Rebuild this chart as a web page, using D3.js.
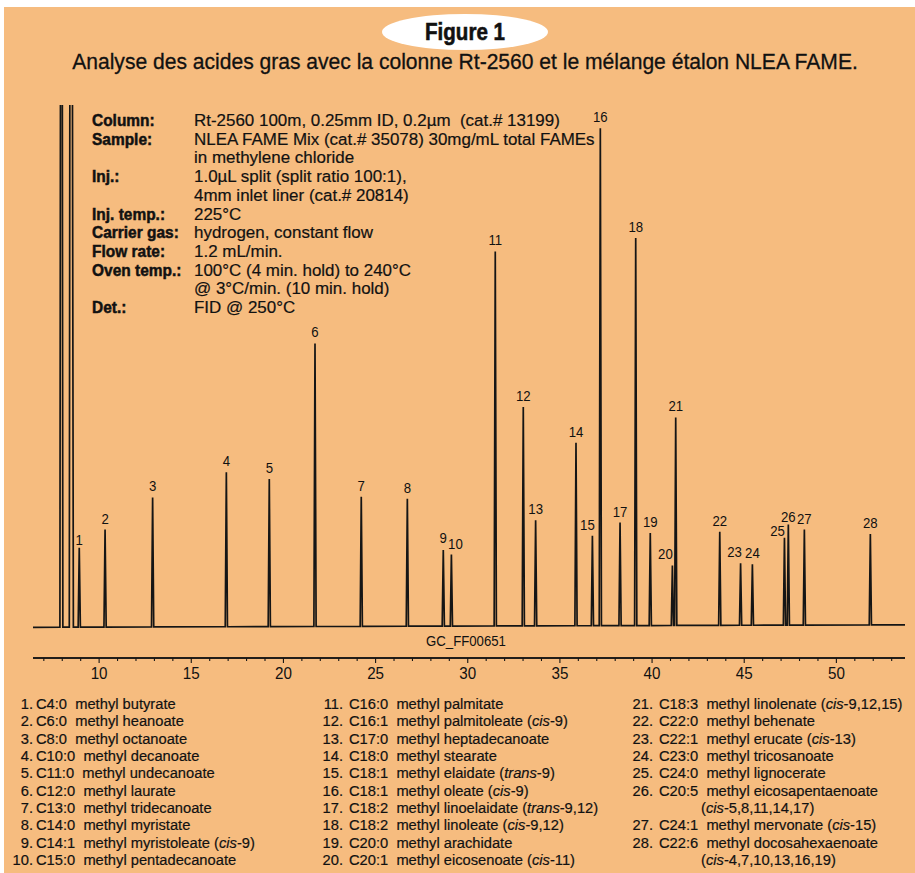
<!DOCTYPE html>
<html>
<head>
<meta charset="utf-8">
<script src="https://cdn.jsdelivr.net/npm/d3@7"></script>
<style>
  html, body { margin: 0; padding: 0; background: #ffffff; }
  svg { display: block; }
</style>
</head>
<body>
<script>
// ---- data ----
const peakNums = [1, 2, 3, 4, 5, 6, 7, 8, 9, 10, 11, 12, 13, 14, 15, 16, 17, 18, 19, 20, 21, 22, 23, 24, 25, 26, 27, 28]
const peakTimes = [8.95, 10.35, 12.93, 16.93, 19.26, 21.74, 24.25, 26.75, 28.70, 29.14,
    31.52, 33.04, 33.71, 35.90, 36.79, 37.22, 38.29, 39.14, 39.93, 41.13,
    41.31, 43.70, 44.83, 45.47, 47.21, 47.42, 48.29, 51.87]
const peakHeights = [15.9, 19.5, 25.9, 30.9, 29.5, 56.6, 25.9, 25.5, 15.2, 14.3,
    74.9, 43.8, 21.1, 36.6, 18.0, 99.5, 20.6, 77.5, 18.5, 12.0,
    41.6, 18.7, 12.4, 12.2, 17.5, 20.1, 19.1, 18.2]

// solvent front, runs off the top
const solventTimes = [7.98, 8.49]
const solventHeights = [300, 300]

// baseline drift (time, signal)
const baselineTimes = [6.44, 53.75]
const baselineLevels = [0, 0.5]

const majorTicks = [10, 15, 20, 25, 30, 35, 40, 45, 50]
const minorTicks = [7, 8, 9, 11, 12, 13, 14, 16, 17, 18, 19, 21, 22, 23, 24, 26, 27, 28, 29,
    31, 32, 33, 34, 36, 37, 38, 39, 41, 42, 43, 44, 46, 47, 48, 49, 51, 52, 53]

const infoLabels = ['Column:', 'Sample:', '', 'Inj.:', '', 'Inj. temp.:', 'Carrier gas:', 'Flow rate:', 'Oven temp.:', '', 'Det.:']
const infoValues = [
    'Rt-2560 100m, 0.25mm ID, 0.2µm  (cat.# 13199)',
    'NLEA FAME Mix (cat.# 35078) 30mg/mL total FAMEs',
    'in methylene chloride',
    '1.0µL split (split ratio 100:1),',
    '4mm inlet liner (cat.# 20814)',
    '225°C',
    'hydrogen, constant flow',
    '1.2 mL/min.',
    '100°C (4 min. hold) to 240°C',
    '@ 3°C/min. (10 min. hold)',
    'FID @ 250°C'
]

const compoundCodes = ['C4:0', 'C6:0', 'C8:0', 'C10:0', 'C11:0', 'C12:0', 'C13:0', 'C14:0', 'C14:1', 'C15:0',
    'C16:0', 'C16:1', 'C17:0', 'C18:0', 'C18:1', 'C18:1', 'C18:2', 'C18:2', 'C20:0', 'C20:1',
    'C18:3', 'C22:0', 'C22:1', 'C23:0', 'C24:0', 'C20:5', 'C24:1', 'C22:6']
// <i>..</i> = italic, | = line break
const compoundNames = ['methyl butyrate', 'methyl heanoate', 'methyl octanoate', 'methyl decanoate',
    'methyl undecanoate', 'methyl laurate', 'methyl tridecanoate', 'methyl myristate',
    'methyl myristoleate (<i>cis</i>-9)', 'methyl pentadecanoate',
    'methyl palmitate', 'methyl palmitoleate (<i>cis</i>-9)', 'methyl heptadecanoate', 'methyl stearate',
    'methyl elaidate (<i>trans</i>-9)', 'methyl oleate (<i>cis</i>-9)', 'methyl linoelaidate (<i>trans</i>-9,12)',
    'methyl linoleate (<i>cis</i>-9,12)', 'methyl arachidate', 'methyl eicosenoate (<i>cis</i>-11)',
    'methyl linolenate (<i>cis</i>-9,12,15)', 'methyl behenate', 'methyl erucate (<i>cis</i>-13)',
    'methyl tricosanoate', 'methyl lignocerate', 'methyl eicosapentaenoate|(<i>cis</i>-5,8,11,14,17)',
    'methyl mervonate (<i>cis</i>-15)', 'methyl docosahexaenoate|(<i>cis</i>-4,7,10,13,16,19)']

// ---- layout ----
const W = 915, H = 873
const font = "'Liberation Sans', Arial, Helvetica, sans-serif"
const bg = '#f6bc7f'
const ink = '#151515'

// label nudges [dx, dy] for crowded peaks
const labelNudge = {1: [0, 3], 9: [0, -1], 10: [4, 0], 15: [-5, 0], 20: [-7, 0], 23: [-6, 0], 25: [-7, 4], 26: [0, 3]}

const svg = d3.select('body').append('svg')
    .attr('width', W)
    .attr('height', H)

// the source uses a condensed face: squeeze liberation horizontally
function squeeze(sel, s) {
    sel.each(function () {
        const t = d3.select(this)
        const xx = +t.attr('x'), yy = +t.attr('y')
        t.attr('x', 0).attr('y', 0)
            .attr('transform', `translate(${xx},${yy}) scale(${s},1)`)
    })
}

function widthOf(sel) {
    return sel.node().getComputedTextLength()
}

// helvetica condensed prints darker than liberation
function heavier(sel, w) {
    sel.attr('stroke', '#111').attr('stroke-width', w).attr('paint-order', 'stroke')
}

svg.append('rect')
    .attr('x', 4).attr('y', 7)
    .attr('width', W - 4).attr('height', H - 7)
    .attr('fill', bg)

// title
svg.append('ellipse')
    .attr('cx', 465).attr('cy', 32)
    .attr('rx', 83).attr('ry', 18)
    .attr('fill', '#ffffff')

const fig = svg.append('text')
    .attr('x', 465).attr('y', 40)
    .attr('text-anchor', 'middle')
    .style('font-family', font)
    .style('font-weight', 'bold')
    .style('font-size', '24px')
    .attr('fill', '#111')
    .text('Figure 1')
squeeze(fig, 80 / widthOf(fig))
heavier(fig, 0.6)

const title = svg.append('text')
    .attr('x', 465).attr('y', 69)
    .attr('text-anchor', 'middle')
    .style('font-family', font)
    .style('font-size', '22px')
    .attr('fill', '#111')
    .text('Analyse des acides gras avec la colonne Rt-2560 et le mélange étalon NLEA FAME.')
squeeze(title, 786 / widthOf(title))
heavier(title, 0.3)

// scales
const x = d3.scaleLinear().domain([6.44, 53.75]).range([33, 905])
const y = d3.scaleLinear().domain([0, 100]).range([627.3, 127.3])
const base = d3.scaleLinear().domain(baselineTimes).range(baselineLevels)

// ---- trace ----
let peaks = peakTimes.map((t, i) => ({t: t, h: peakHeights[i], w: 0.06, w2: 0.06}))
solventTimes.forEach((t, i) => peaks.push({t: t, h: solventHeights[i], w: 0.08, w2: i == 1 ? 0.14 : 0.08}))
peaks.sort((a, b) => a.t - b.t)

let pts = [[baselineTimes[0], base(baselineTimes[0])]]
peaks.forEach(p => {
    pts.push([p.t - p.w, base(p.t - p.w)])
    pts.push([p.t, base(p.t) + p.h])
    pts.push([p.t + p.w2, base(p.t + p.w2)])
})
pts.push([baselineTimes[1], base(baselineTimes[1])])

const lineGenerator = d3.line()
    .x(d => x(d[0]))
    .y(d => y(d[1]))

svg.append('clipPath').attr('id', 'plotClip')
    .append('rect')
    .attr('x', 0).attr('y', 105)
    .attr('width', W).attr('height', 560)

svg.append('path')
    .attr('clip-path', 'url(#plotClip)')
    .attr('d', lineGenerator(pts))
    .attr('fill', 'none')
    .attr('stroke', ink)
    .attr('stroke-width', 1.7)
    .attr('stroke-linejoin', 'miter')

// peak numbers
const peakLabels = svg.append('g')
    .selectAll('text')
    .data(peakNums)
    .enter()
    .append('text')
    .attr('x', (d, i) => x(peakTimes[i]) + (labelNudge[d] ? labelNudge[d][0] : 0))
    .attr('y', (d, i) => y(base(peakTimes[i]) + peakHeights[i]) - 6 + (labelNudge[d] ? labelNudge[d][1] : 0))
    .attr('text-anchor', 'middle')
    .style('font-family', font)
    .style('font-size', '15px')
    .attr('fill', '#111')
    .text(d => d)
squeeze(peakLabels, 0.88)

const gcId = svg.append('text')
    .attr('x', 466).attr('y', 646)
    .attr('text-anchor', 'middle')
    .style('font-family', font)
    .style('font-size', '15px')
    .attr('fill', '#111')
    .text('GC_FF00651')
squeeze(gcId, 80 / widthOf(gcId))

// ---- time axis ----
const axisY = 658
const gMinor = svg.append('g')
    .attr('transform', `translate(0,${axisY})`)
    .call(d3.axisBottom(x).tickValues(minorTicks).tickSize(3).tickFormat(''))
const gMajor = svg.append('g')
    .attr('transform', `translate(0,${axisY})`)
    .call(d3.axisBottom(x).tickValues(majorTicks).tickSize(5).tickSizeOuter(0).tickPadding(5))

;[gMinor, gMajor].forEach(g => {
    g.select('.domain').attr('d', `M${x.range()[0]},0H${x.range()[1]}`).attr('stroke', ink).attr('stroke-width', 1.3)
    g.selectAll('.tick line').attr('stroke', ink).attr('stroke-width', 1.1)
})
gMajor.selectAll('.tick text')
    .style('font-family', font)
    .style('font-size', '16px')
    .attr('fill', '#111')
    .attr('transform', 'scale(0.95,1)')

// ---- conditions block ----
const info = svg.append('g')
const rowH = 18.7
infoLabels.forEach((lab, i) => {
    const yy = 126 + i * rowH
    if (lab) {
        info.append('text')
            .attr('class', 'lab')
            .attr('x', 92).attr('y', yy)
            .style('font-family', font)
            .style('font-weight', 'bold')
            .style('font-size', '17px')
            .attr('fill', '#111')
            .text(lab)
    }
    info.append('text')
        .attr('class', 'val')
        .attr('x', 194).attr('y', yy)
        .style('font-family', font)
        .style('font-size', '17px')
        .style('white-space', 'pre')
        .attr('fill', '#111')
        .text(infoValues[i])
})
const labScale = 89.4 / widthOf(info.selectAll('.lab').filter((d, i) => i == 6))
const valScale = 366 / widthOf(info.select('.val'))
squeeze(info.selectAll('.lab'), labScale)
squeeze(info.selectAll('.val'), valScale)
heavier(info.selectAll('.lab'), 0.5)
heavier(info.selectAll('.val'), 0.2)

// ---- compound list ----
const cols = [
    {num: 33, code: 36, cont: 0},
    {num: 343, code: 349, cont: 0},
    {num: 653, code: 659, cont: 701}
]
const legH = 17.33

function addRich(textSel, str) {
    // split on <i> tags -> tspans
    str.split(/(<i>.*?<\/i>)/).forEach(part => {
        if (!part) return
        const it = part.startsWith('<i>')
        textSel.append('tspan')
            .style('font-style', it ? 'italic' : 'normal')
            .text(it ? part.slice(3, -4) : part)
    })
}

const legend = svg.append('g')
    .style('font-family', font)
    .style('font-size', '15px')
    .attr('fill', '#111')

let row = 0, col = 0
let refLine
compoundCodes.forEach((code, i) => {
    if (i == 10 || i == 20) { col++; row = 0 }
    const c = cols[col]
    const lines = compoundNames[i].split('|')
    const yy = 709 + row * legH

    legend.append('text')
        .attr('x', c.num).attr('y', yy)
        .attr('text-anchor', 'end')
        .text((i + 1) + '.')

    const t = legend.append('text')
        .attr('x', c.code).attr('y', yy)
        .style('white-space', 'pre')
    t.append('tspan').text(code + '  ')
    addRich(t, lines[0])
    if (i == 8) refLine = t
    row++

    for (let k = 1; k < lines.length; k++) {
        const t2 = legend.append('text')
            .attr('x', c.cont).attr('y', 709 + row * legH)
        addRich(t2, lines[k])
        row++
    }
})
// item 9 runs from x=36 to x=255 in the source
squeeze(legend.selectAll('text'), 219 / widthOf(refLine))
heavier(legend.selectAll('text'), 0.2)
</script>
</body>
</html>
